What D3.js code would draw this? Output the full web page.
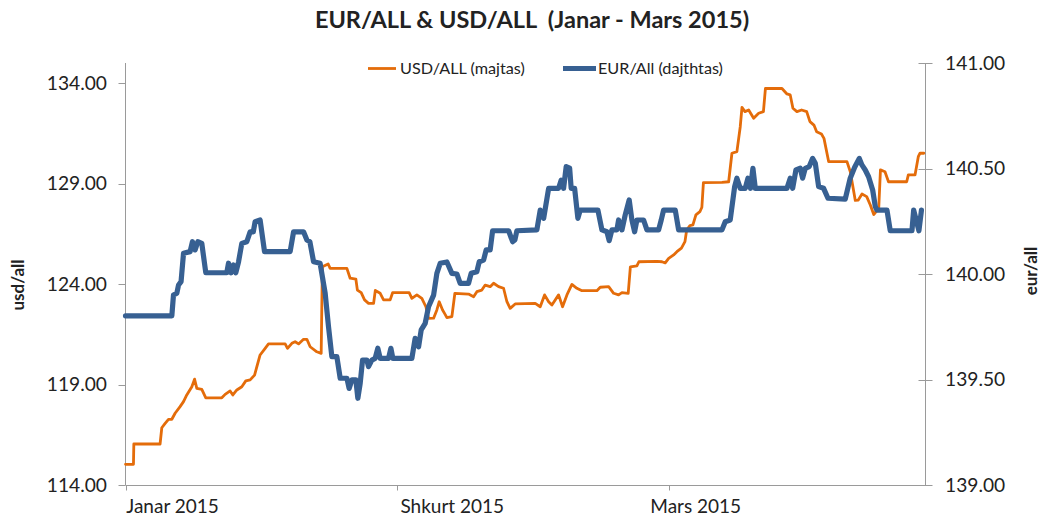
<!DOCTYPE html>
<html><head><meta charset="utf-8">
<script src="https://cdn.jsdelivr.net/npm/d3@7"></script>
<style>
body{margin:0;background:#fff}
svg{display:block;font-family:Lato,'Open Sans',sans-serif}
</style>
</head><body><svg id="c" width="1042" height="517"></svg>
<script>
const titleText = "EUR/ALL & USD/ALL  (Janar - Mars 2015)";
const seriesNames = ["USD/ALL (majtas)", "EUR/All (dajthtas)"];
const axisTitles = ["usd/all", "eur/all"];
const leftTicks = [114, 119, 124, 129, 134];
const rightTicks = [139, 139.5, 140, 140.5, 141];
const xTickDays = [0, 30, 60];
const monthLabels = ["Janar 2015", "Shkurt 2015", "Mars 2015"];
const monthLabelDays = [5.2, 36.1, 63.0];

const usdDays = [0,0.88,0.92,3.82,4.01,4.38,4.75,5.12,5.48,6.03,6.41,6.77,7.33,7.63,7.88,8.43,8.87,10.64,11.01,11.56,11.86,12.30,12.85,13.29,13.77,14.26,14.87,15.43,15.80,17.64,17.90,18.38,18.74,19.12,19.67,20.04,20.40,21.14,21.62,21.75,22.39,22.61,24.46,24.82,25.45,25.62,26.04,26.41,26.85,27.41,27.60,28.14,28.51,29.24,29.51,31.34,31.64,32.19,32.74,33.19,33.48,34.04,34.40,34.66,35.03,35.25,35.51,36.06,36.39,37.90,38.46,38.82,39.37,39.74,40.29,40.67,41.22,41.77,42.14,42.50,43.05,45.27,45.82,46.30,46.75,47.11,47.85,48.29,48.77,49.32,49.87,50.43,52.08,52.45,53.38,53.93,54.48,54.85,55.54,55.78,56.50,56.72,58.71,59.27,59.63,60.01,60.56,60.92,61.42,61.81,62.00,62.36,62.69,63.02,63.46,63.68,63.85,65.90,66.64,67.00,67.55,67.92,68.11,68.44,68.85,69.40,69.95,70.48,70.70,72.53,73.08,73.44,73.74,74.18,74.70,75.26,75.62,76.06,76.36,76.89,77.17,77.69,79.71,80.08,80.63,80.96,81.37,81.89,82.29,82.67,83.22,83.41,83.91,84.30,86.31,86.49,87.23,87.59,87.78,88.20];
const usdValues = [115.03,115.03,116.04,116.04,116.85,117.07,117.27,117.27,117.57,117.90,118.15,118.48,118.89,119.27,118.81,118.76,118.34,118.34,118.51,118.68,118.48,118.73,118.89,119.18,119.23,119.47,120.47,120.80,121.02,121.02,120.80,121.05,121.13,121.02,121.25,121.25,120.88,120.63,120.55,124.86,125.00,124.78,124.78,124.29,124.25,123.70,123.57,123.21,123.04,123.04,123.68,123.54,123.21,123.21,123.57,123.57,123.29,123.46,123.29,122.87,122.29,122.30,122.71,123.12,122.71,122.54,122.33,122.38,123.54,123.50,123.37,123.62,123.70,123.95,123.87,124.04,123.87,123.79,123.12,122.79,123.01,123.04,122.87,123.46,123.12,122.96,123.46,122.87,123.46,123.98,123.79,123.67,123.67,123.84,123.87,123.54,123.46,123.57,123.54,124.86,124.90,125.11,125.13,125.11,125.05,125.28,125.45,125.61,125.79,126.11,126.69,126.91,126.94,127.44,127.60,127.82,129.05,129.06,129.09,130.51,130.59,131.83,132.79,132.58,132.66,132.25,132.50,132.58,133.73,133.73,133.46,133.41,132.75,132.58,132.66,132.58,132.08,131.91,131.58,131.47,131.25,130.09,130.09,129.59,128.16,128.18,128.48,128.35,127.93,127.46,127.78,129.68,129.59,129.09,129.09,129.43,129.43,130.34,130.51,130.51];

const eurDays = [0,5.12,5.30,5.67,5.86,6.14,6.41,7.14,7.40,7.69,7.99,8.43,8.87,11.19,11.38,11.67,11.93,12.19,12.49,12.85,13.40,13.77,14.12,14.32,14.87,15.36,18.19,18.57,19.67,20.04,20.37,20.78,21.50,22.06,22.43,22.80,23.35,23.72,24.46,24.71,25.01,25.45,25.67,25.93,26.19,26.67,26.85,27.22,27.58,27.88,28.14,29.06,29.32,29.54,31.64,32.00,32.38,32.67,33.11,33.48,34.04,34.40,34.77,35.51,36.06,36.61,36.98,37.90,38.19,38.82,39.08,39.56,39.85,40.29,40.56,42.33,42.77,43.02,43.24,45.45,45.82,46.20,46.75,47.85,48.14,48.40,48.69,49.07,49.24,49.62,49.98,50.24,52.19,52.64,53.19,53.44,53.74,54.29,54.48,54.85,55.21,55.65,55.95,56.25,56.50,57.24,57.61,58.90,59.19,59.45,60.74,61.11,65.90,66.26,66.81,67.30,67.55,67.92,68.47,68.77,69.05,69.32,69.58,73.08,73.44,73.71,74.07,74.55,74.81,75.10,75.54,75.92,76.21,76.58,77.13,77.61,79.52,80.07,80.56,81.07,81.36,81.73,82.10,82.55,82.84,83.02,84.13,84.49,86.89,87.08,87.66,87.94];
const eurValues = [139.802,139.802,139.900,139.909,139.948,139.964,140.098,140.106,140.153,140.114,140.153,140.145,140.006,140.006,140.051,140.006,140.043,140.006,140.058,140.145,140.153,140.200,140.200,140.248,140.256,140.106,140.106,140.200,140.200,140.161,140.153,140.058,140.051,139.909,139.750,139.608,139.608,139.506,139.506,139.458,139.498,139.498,139.411,139.482,139.592,139.592,139.561,139.592,139.600,139.648,139.600,139.600,139.648,139.600,139.600,139.695,139.655,139.735,139.766,139.845,139.900,140.003,140.051,140.057,140.003,140.000,139.956,139.956,140.003,140.011,140.058,140.066,140.114,140.114,140.205,140.205,140.153,140.161,140.205,140.209,140.303,140.264,140.406,140.406,140.445,140.406,140.509,140.502,140.406,140.406,140.264,140.303,140.303,140.209,140.200,140.158,140.209,140.209,140.256,140.209,140.280,140.351,140.256,140.200,140.256,140.256,140.209,140.209,140.256,140.303,140.303,140.209,140.209,140.248,140.256,140.414,140.454,140.406,140.406,140.454,140.406,140.501,140.406,140.406,140.454,140.406,140.493,140.501,140.454,140.501,140.509,140.548,140.525,140.414,140.406,140.359,140.355,140.454,140.506,140.548,140.517,140.493,140.461,140.398,140.319,140.303,140.303,140.206,140.205,140.303,140.205,140.303];

const colors = ["#E46C0A", "#376092"];
const axisColor = "#9a9a9a";
const textColor = "#222";

const svg = d3.select("#c");
svg.append("rect").attr("width",1042).attr("height",517).attr("fill","#fff");

const plotL = 125.5, plotR = 925.5, plotT = 63, plotB = 485;
const x = d3.scaleLinear().domain([0, 88]).range([plotL, 922]);
const yL = d3.scaleLinear().domain([114, 135]).range([plotB, plotT]);
const yR = d3.scaleLinear().domain([139, 141]).range([plotB, plotT]);

// Title
svg.append("text").attr("x", 532).attr("y", 28).attr("text-anchor","middle")
  .attr("font-size", 23.5).attr("font-weight", "bold").attr("fill", textColor)
  .style("white-space","pre").text(titleText);

// Left axis
const gL = svg.append("g").attr("transform", `translate(${plotL},0)`);
gL.append("line").attr("y1", plotT).attr("y2", plotB).attr("stroke", axisColor);
leftTicks.forEach(t => {
  gL.append("line").attr("x1", -7).attr("x2", 0).attr("y1", Math.round(yL(t))+0.5).attr("y2", Math.round(yL(t))+0.5).attr("stroke", axisColor);
  gL.append("text").attr("x", -18.5).attr("y", yL(t)).attr("dy","0.35em").attr("text-anchor","end")
    .attr("font-size", 19.2).attr("fill", textColor).text(d3.format(".2f")(t));
});

// Right axis
const gR = svg.append("g").attr("transform", `translate(${plotR},0)`);
gR.append("line").attr("y1", plotT).attr("y2", plotB).attr("stroke", axisColor);
rightTicks.forEach(t => {
  gR.append("line").attr("x1", -7).attr("x2", 7).attr("y1", Math.round(yR(t))+0.5).attr("y2", Math.round(yR(t))+0.5).attr("stroke", axisColor);
  gR.append("text").attr("x", 19.5).attr("y", yR(t)).attr("dy","0.35em").attr("text-anchor","start")
    .attr("font-size", 19.2).attr("fill", textColor).text(d3.format(".2f")(t));
});

// Bottom axis
const gB = svg.append("g").attr("transform", `translate(0,${plotB+0.5})`);
gB.append("line").attr("x1", plotL).attr("x2", plotR).attr("stroke", axisColor);
xTickDays.forEach(d => {
  const xx = Math.round(x(d)) + 0.5;
  gB.append("line").attr("x1", xx).attr("x2", xx).attr("y1", 0).attr("y2", 5).attr("stroke", axisColor);
});
monthLabels.forEach((m,i) => {
  svg.append("text").attr("x", x(monthLabelDays[i])).attr("y", 513).attr("text-anchor","middle")
    .attr("font-size", 19).attr("fill", textColor).text(m);
});

// Axis titles
svg.append("text").attr("transform","translate(24,285) rotate(-90)").attr("text-anchor","middle")
  .attr("font-size", 17).attr("font-weight","bold").attr("fill", textColor).text(axisTitles[0]);
svg.append("text").attr("transform","translate(1037,271) rotate(-90)").attr("text-anchor","middle")
  .attr("font-size", 17).attr("font-weight","bold").attr("fill", textColor).text(axisTitles[1]);

// Lines
const usd = usdDays.map((d,i) => [d, usdValues[i]]);
const eur = eurDays.map((d,i) => [d, eurValues[i]]);
svg.append("path").datum(usd)
  .attr("d", d3.line().x(d => x(d[0])).y(d => yL(d[1])))
  .attr("fill","none").attr("stroke", colors[0]).attr("stroke-width", 2.8)
  .attr("stroke-linejoin","round").attr("stroke-linecap","round");
svg.append("path").datum(eur)
  .attr("d", d3.line().x(d => x(d[0])).y(d => yR(d[1])))
  .attr("fill","none").attr("stroke", colors[1]).attr("stroke-width", 5.2)
  .attr("stroke-linejoin","round").attr("stroke-linecap","round");

// Legend
const legendItems = [
  {x1: 368, x2: 396, tx: 400, w: 2.8},
  {x1: 563, x2: 596, tx: 598, w: 5.2}
];
legendItems.forEach((it, i) => {
  svg.append("line").attr("x1", it.x1).attr("x2", it.x2).attr("y1", 68.5).attr("y2", 68.5)
    .attr("stroke", colors[i]).attr("stroke-width", it.w);
  svg.append("text").attr("x", it.tx).attr("y", 68.5).attr("dy","0.35em")
    .attr("font-size", 16.2).attr("fill", textColor).text(seriesNames[i]);
});
</script></body></html>
